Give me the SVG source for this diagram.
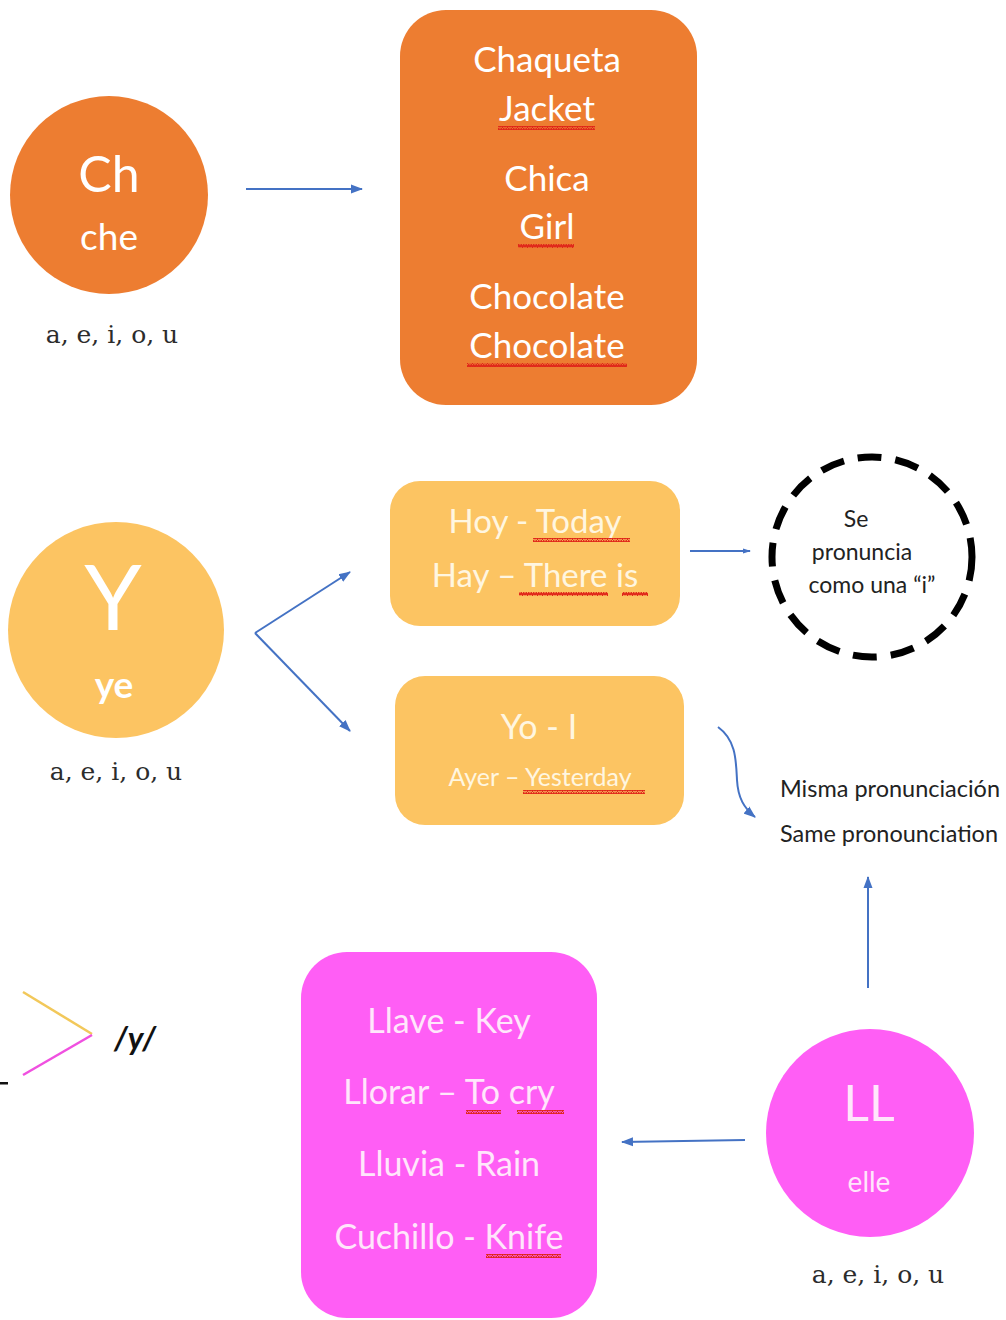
<svg xmlns="http://www.w3.org/2000/svg" width="1006" height="1320" viewBox="0 0 1006 1320">
  <defs>
    <style>
      .sans { font-family: Lato, "Open Sans", "Liberation Sans", sans-serif; }
      .serif { font-family: "DejaVu Serif", "Liberation Serif", serif; fill: #2c2c2c; font-size: 25px; }
      .wt { fill: #ffffff; text-anchor: middle; }
      .yt { fill: #fff6e0; text-anchor: middle; }
      .pt { fill: #ffe6fb; text-anchor: middle; }
      .conn { stroke: #4472c4; stroke-width: 2; fill: none; }
      .sq { fill: url(#squiggle); }
    </style>
    <marker id="ah" markerWidth="12" markerHeight="10" refX="11" refY="5" orient="auto" markerUnits="userSpaceOnUse">
      <path d="M0,0.5 L12,5 L0,9.5 Z" fill="#4472c4"/>
    </marker>
    <marker id="ahs" markerWidth="8" markerHeight="6" refX="7" refY="3" orient="auto" markerUnits="userSpaceOnUse">
      <path d="M0,0.5 L8,3 L0,5.5 Z" fill="#4472c4"/>
    </marker>
    <pattern id="squiggle" width="5" height="4" patternUnits="userSpaceOnUse">
      <polyline points="0,3.2 1.25,0.8 2.5,3.2 3.75,0.8 5,3.2" fill="none" stroke="#e0261a" stroke-width="1.6"/>
    </pattern>
  </defs>

  <rect width="1006" height="1320" fill="#ffffff"/>

  <!-- Ch -->
  <g id="node-ch">
    <circle cx="109" cy="195" r="99" fill="#ed7d31"/>
    <text x="109" y="192" class="sans wt" font-size="50">Ch</text>
    <text x="109" y="250" class="sans wt" font-size="37">che</text>
    <text x="112" y="343" class="serif" text-anchor="middle">a, e, i, o, u</text>
  </g>

  <g id="box-ch">
    <rect x="400" y="10" width="297" height="395" rx="46" fill="#ed7d31"/>
    <g class="sans wt" font-size="35">
      <text x="547" y="72">Chaqueta</text>
      <text x="547" y="121">Jacket</text>
      <text x="547" y="191">Chica</text>
      <text x="547" y="239">Girl</text>
      <text x="547" y="309">Chocolate</text>
      <text x="547" y="358">Chocolate</text>
    </g>
    <rect class="sq" x="498" y="126" width="97" height="4"/>
    <rect class="sq" x="518" y="244" width="56" height="4"/>
    <rect class="sq" x="467" y="363" width="160" height="4"/>
  </g>

  <!-- Y -->
  <g id="node-y">
    <circle cx="116" cy="630" r="108" fill="#fcc462"/>
    <text x="113" y="630" class="sans wt" font-size="92">Y</text>
    <text x="114" y="698" class="sans wt" font-size="37" font-weight="bold">ye</text>
    <text x="116" y="780" class="serif" text-anchor="middle">a, e, i, o, u</text>
  </g>

  <g id="box-hoy">
    <rect x="390" y="481" width="290" height="145" rx="30" fill="#fcc462"/>
    <g class="sans yt" font-size="33">
      <text x="535" y="533">Hoy - Today</text>
      <text x="535" y="587">Hay – There is</text>
    </g>
    <rect class="sq" x="533" y="538" width="97" height="4"/>
    <rect class="sq" x="519" y="592" width="89" height="4"/>
    <rect class="sq" x="622" y="592" width="26" height="4"/>
  </g>

  <g id="box-yo">
    <rect x="395" y="676" width="289" height="149" rx="30" fill="#fcc462"/>
    <text x="539" y="739" class="sans yt" font-size="34">Yo - I</text>
    <text x="540" y="786" class="sans yt" font-size="25">Ayer – Yesterday</text>
    <rect class="sq" x="523" y="790" width="122" height="4"/>
  </g>

  <g id="note-i">
    <circle cx="872" cy="557" r="100" fill="none" stroke="#000000" stroke-width="7" stroke-dasharray="24 14"/>
    <g class="sans" font-size="23" fill="#222222" text-anchor="middle">
      <text x="856" y="527">Se</text>
      <text x="862" y="560">pronuncia</text>
      <text x="872" y="593">como una “i”</text>
    </g>
  </g>

  <g id="note-same">
    <g class="sans" font-size="23" fill="#222222">
      <text x="780" y="797" textLength="220" lengthAdjust="spacingAndGlyphs">Misma pronunciación</text>
      <text x="780" y="842" textLength="218" lengthAdjust="spacingAndGlyphs">Same pronounciation</text>
    </g>
  </g>

  <!-- LL -->
  <g id="node-ll">
    <circle cx="870" cy="1133" r="104" fill="#ff5ef5"/>
    <text x="869" y="1121" class="sans pt" font-size="50">LL</text>
    <text x="869" y="1192" class="sans pt" font-size="28">elle</text>
    <text x="878" y="1283" class="serif" text-anchor="middle">a, e, i, o, u</text>
  </g>

  <g id="box-ll">
    <rect x="301" y="952" width="296" height="366" rx="46" fill="#ff5ef5"/>
    <g class="sans pt" font-size="34">
      <text x="449" y="1033">Llave - Key</text>
      <text x="449" y="1104">Llorar – To cry</text>
      <text x="449" y="1176">Lluvia - Rain</text>
      <text x="449" y="1249">Cuchillo - Knife</text>
    </g>
    <rect class="sq" x="466" y="1110" width="35" height="4"/>
    <rect class="sq" x="517" y="1110" width="47" height="4"/>
    <rect class="sq" x="486" y="1254" width="75" height="4"/>
  </g>

  <!-- /y/ -->
  <g id="sound-y">
    <line x1="23" y1="992" x2="92" y2="1034" stroke="#f2c85a" stroke-width="2.5"/>
    <line x1="92" y1="1035" x2="23" y2="1075" stroke="#f050e0" stroke-width="2.5"/>
    <text x="114" y="1050" font-family="Lato, 'Liberation Sans', sans-serif" font-size="32" font-weight="bold" font-style="italic" fill="#111111">/y/</text>
    <rect x="0" y="1082" width="8" height="2.5" fill="#111111"/>
  </g>

  <g id="connectors">
    <line class="conn" x1="246" y1="189" x2="362" y2="189" marker-end="url(#ah)"/>
    <line class="conn" x1="255" y1="633" x2="350" y2="572" marker-end="url(#ah)"/>
    <line class="conn" x1="255" y1="633" x2="350" y2="731" marker-end="url(#ah)"/>
    <line class="conn" x1="690" y1="551" x2="750" y2="551" stroke-width="1.3" marker-end="url(#ahs)"/>
    <path class="conn" d="M718,727 C736,740 736,760 737,780 C738,798 744,808 755,817" stroke-width="1.6" marker-end="url(#ah)"/>
    <line class="conn" x1="868" y1="988" x2="868" y2="877" marker-end="url(#ah)"/>
    <line class="conn" x1="745" y1="1140" x2="622" y2="1142" marker-end="url(#ah)"/>
  </g>
</svg>
